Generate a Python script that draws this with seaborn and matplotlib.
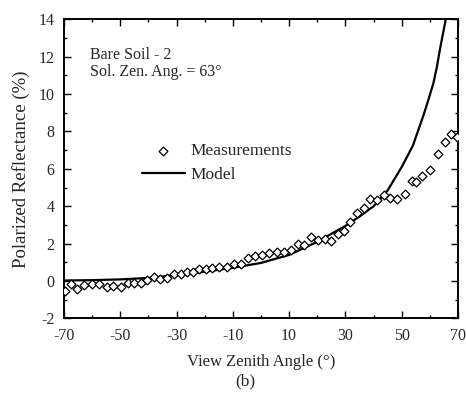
import numpy as np
import pandas as pd
import matplotlib
matplotlib.use("Agg")
import matplotlib.pyplot as plt
from matplotlib.ticker import MultipleLocator, FixedLocator
import seaborn as sns

# Measured polarized reflectance vs view zenith angle
meas_angle = [-69.6, -67.6, -65.3, -62.9, -60.2, -57.6, -54.8, -52.5, -49.7, -47.1,
              -45.1, -42.7, -40.4, -37.9, -35.9, -33.5, -30.9, -28.5, -26.2, -24.0,
              -22.0, -19.6, -17.3, -14.8, -12.2, -9.6, -7.1, -4.5, -2.1, 0.5,
              2.9, 5.6, 8.2, 10.7, 13.0, 15.3, 17.9, 20.4, 22.8, 24.9,
              27.3, 29.5, 31.6, 34.1, 36.5, 38.9, 41.1, 43.6, 46.0, 48.5,
              51.2, 53.8, 55.1, 57.3, 60.1, 63.0, 65.4, 67.5, 69.5]
meas_refl = [-0.52, -0.18, -0.44, -0.21, -0.18, -0.18, -0.30, -0.25, -0.30, -0.09,
             -0.09, -0.12, 0.05, 0.20, 0.09, 0.14, 0.36, 0.37, 0.46, 0.50,
             0.64, 0.64, 0.71, 0.76, 0.73, 0.91, 0.94, 1.26, 1.33, 1.42,
             1.48, 1.53, 1.56, 1.65, 1.96, 1.92, 2.34, 2.19, 2.24, 2.15,
             2.51, 2.68, 3.16, 3.66, 3.93, 4.41, 4.33, 4.60, 4.45, 4.37,
             4.65, 5.35, 5.30, 5.60, 5.92, 6.77, 7.43, 7.88, 7.70]

# Model curve
model_angle = [-70, -60, -50, -40, -30, -20, -10, 0, 10, 20, 30, 35, 40, 45,
               50, 54, 57.7, 59.5, 61.3, 62.5, 63.6, 64.5, 65.4, 66.5]
model_refl = [0.03, 0.05, 0.09, 0.17, 0.32, 0.50, 0.71, 0.97, 1.40, 2.10, 2.95,
              3.45, 4.00, 4.85, 6.10, 7.25, 8.85, 9.70, 10.6, 11.45, 12.4,
              13.1, 13.8, 14.8]

meas = pd.DataFrame({"angle": meas_angle, "refl": meas_refl})
model = pd.DataFrame({"angle": model_angle, "refl": model_refl})

sns.set_theme(style="ticks")
plt.rcParams["font.family"] = ["Liberation Serif", "DejaVu Serif"]
plt.rcParams["axes.unicode_minus"] = False

fig = plt.figure(figsize=(4.66, 3.93), dpi=100)
ax = fig.add_axes([0.1373, 0.1896, 0.8455, 0.7614])

sns.lineplot(data=model, x="angle", y="refl", ax=ax, color="black",
             linewidth=1.6, label="Model", zorder=2)
sns.scatterplot(data=meas, x="angle", y="refl", ax=ax, marker="D", s=20,
                facecolor="white", edgecolor="black", linewidth=0.9,
                label="Measurements", zorder=3)

ax.set_xlim(-70, 70)
ax.set_ylim(-2, 14)
ax.xaxis.set_major_locator(FixedLocator(np.arange(-70, 71, 20)))
ax.xaxis.set_minor_locator(MultipleLocator(10))
ax.yaxis.set_major_locator(MultipleLocator(2))
ax.yaxis.set_minor_locator(MultipleLocator(1))
ax.tick_params(which="both", direction="in", top=True, right=True,
               labelsize=11.5, color="black", width=1.0)
ax.tick_params(which="major", length=5, pad=7)
ax.tick_params(which="minor", length=2.5)
for sp in ax.spines.values():
    sp.set_linewidth(1.4)
    sp.set_color("black")

ax.set_xlabel("View Zenith Angle (°)", fontsize=12, labelpad=7)
ax.set_ylabel("Polarized Reflectance (%)", fontsize=13.5, labelpad=6)

ax.text(0.066, 0.881, "Bare Soil - 2", transform=ax.transAxes,
        fontsize=11.5, va="center", ha="left")
ax.text(0.066, 0.824, "Sol. Zen. Ang. = 63°", transform=ax.transAxes,
        fontsize=11.5, va="center", ha="left")

handles, labels = ax.get_legend_handles_labels()
order = [labels.index("Measurements"), labels.index("Model")]
ax.legend([handles[i] for i in order], [labels[i] for i in order],
          loc="upper left", bbox_to_anchor=(0.198, 0.586), frameon=False,
          fontsize=12.5, handlelength=2.45, handletextpad=0.35, borderpad=0,
          borderaxespad=0, labelspacing=0.45)

fig.text(0.526, 0.03, "(b)", ha="center", va="center", fontsize=12.5)

fig.savefig("out.png", dpi=100)
